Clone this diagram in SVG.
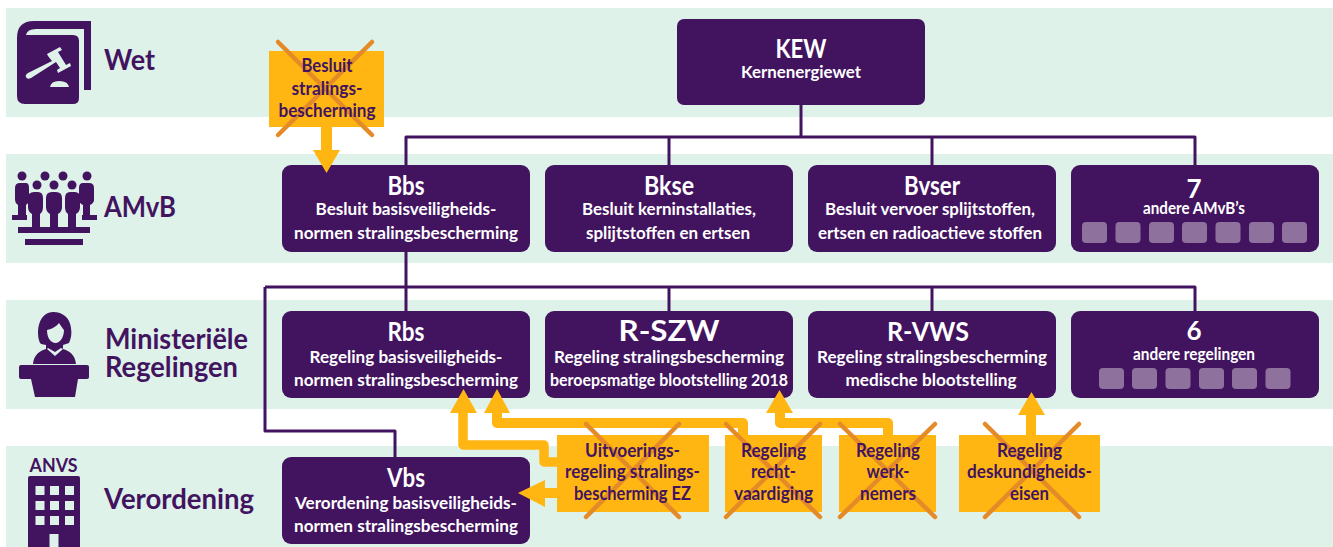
<svg xmlns="http://www.w3.org/2000/svg" width="1333" height="547" viewBox="0 0 1333 547">
<style>
text{font-family:"Lato","Liberation Sans",sans-serif;font-weight:700;text-anchor:middle}
.band{fill:#dff2ea}
.node{fill:#42145f}
.tt{fill:#fff;font-size:26px}
.st{fill:#fff;font-size:17.500px}
.lab{fill:#42145f;font-size:29px;text-anchor:start}
.y{fill:#ffb612}
.x{stroke:#e48a26;stroke-width:4.500;stroke-linecap:round;fill:none}
.yt{fill:#42145f;font-size:18.500px}
.sq{fill:#8e729d}
.line{fill:none;stroke:#42145f;stroke-width:3;stroke-linejoin:round}
.yl{fill:none;stroke:#ffb612;stroke-width:10;stroke-linejoin:round}
.ic{fill:#42145f}
.ib{fill:#dff2ea}
</style>
<g id="bands">
<rect class="band" x="6" y="8" width="1327" height="109"/>
<rect class="band" x="6" y="154" width="1327" height="109"/>
<rect class="band" x="6" y="300" width="1327" height="109"/>
<rect class="band" x="6" y="446" width="1327" height="101"/>
</g>
<g id="connectors">
<path class="line" d="M801 105V137M406 165V137H1195V165M669 137V165M932 137V165"/>
<path class="line" d="M406 252V311M265 287H1195V311M669 287V311M932 287V311M395 457V431H265V287"/>
</g>
<g id="icon-wet">
<path class="ic" d="M17 38Q17 21 34 21H91V90H84V29H36Q27 29 26 35H73Q79 35 79 41V98Q79 104 73 104H25Q17 104 17 96Z"/>
<path class="ib" d="M47 54L60 47L62 50L58 52L66 65L70 63L71 66L58 73L57 70L60 68L56 62L31 78Q27 80 26 77Q25 75 28 73L52 61L48 56ZM50 87Q51 81 59 81Q68 81 69 87Z"/>
</g>
<g id="icon-amvb" class="ic">
<circle cx="22" cy="176" r="4.500"/><circle cx="45" cy="176" r="4.500"/><circle cx="63" cy="176" r="4.500"/><circle cx="87" cy="176" r="4.500"/>
<circle cx="37" cy="185" r="4.500"/><circle cx="54" cy="185" r="4.500"/><circle cx="72" cy="185" r="4.500"/>
<path d="M15 188Q15 183 20 183H26Q29 183 29 188V200Q29 203 26 205V215H27V220H12V215H18V205Q15 203 15 200Z"/>
<path d="M94 188Q94 183 89 183H83Q79 183 79 188V200Q79 203 83 205V215H82V220H97V215H90V205Q94 203 94 200Z"/>
<path d="M28 198Q28 192 34 192H38Q43 192 43 198V207Q43 212 40 214V227H32V214Q28 212 28 207Z"/>
<path d="M46 198Q46 192 52 192H56Q62 192 62 198V207Q62 212 58 214V227H50V214Q46 212 46 207Z"/>
<path d="M65 198Q65 192 70 192H75Q80 192 80 198V207Q80 212 76 214V227H68V214Q65 212 65 207Z"/>
<rect x="18" y="227" width="72" height="6"/><rect x="25" y="239" width="58" height="6"/>
</g>
<g id="icon-minister">
<path class="ic" d="M53 312C43 312 38 322 38 332C38 338 39 342 41 344L46 345L46 349C40 351 34 354 33 364H76C75 354 69 351 63 349V345L69 343C71 338 72 334 71 328C70 318 63 312 53 312Z"/>
<path class="ib" d="M47 330C52 329 57 326 59 323C61 326 63 329 64 330C64 337 60 343 55.500 343C51 343 47 338 47 330ZM48 348L55 352L61 348L63 349L55 356L47 349Z"/>
<path class="ic" d="M21 365H87Q89 365 89 367V377Q89 379 87 379H78L75 397H35L31 379H21Q19 379 19 377V367Q19 365 21 365Z"/>
</g>
<g id="icon-anvs">
<text x="53.500" y="472" style="fill:#42145f;font-size:18px" textLength="48" lengthAdjust="spacingAndGlyphs">ANVS</text>
<path class="ic" d="M30 476H78Q80 476 80 478V547H58.500V534H49.500V547H28V478Q28 476 30 476Z"/>
<g class="ib"><rect x="35.500" y="486" width="9" height="9"/><rect x="50" y="486" width="9" height="9"/><rect x="65" y="486" width="9" height="9"/><rect x="35.500" y="501" width="9" height="9"/><rect x="50" y="501" width="9" height="9"/><rect x="65" y="501" width="9" height="9"/><rect x="35.500" y="516" width="9" height="9"/><rect x="50" y="516" width="9" height="9"/><rect x="65" y="516" width="9" height="9"/></g>
</g>
<g id="labels">
<text class="lab" x="104" y="70" textLength="51" lengthAdjust="spacingAndGlyphs">Wet</text>
<text class="lab" x="104" y="217" textLength="72" lengthAdjust="spacingAndGlyphs">AMvB</text>
<text class="lab" x="105" y="349" textLength="143" lengthAdjust="spacingAndGlyphs">Ministeriële</text>
<text class="lab" x="105" y="377" textLength="133" lengthAdjust="spacingAndGlyphs">Regelingen</text>
<text class="lab" x="104" y="509" textLength="150" lengthAdjust="spacingAndGlyphs">Verordening</text>
</g>
<g id="node-kew"><rect class="node" x="677" y="19" width="248" height="86" rx="7"/>
<text class="tt" x="801" y="58" textLength="51" lengthAdjust="spacingAndGlyphs">KEW</text>
<text class="st" x="801" y="78" textLength="120" lengthAdjust="spacingAndGlyphs">Kernenergiewet</text></g>
<g id="node-bbs"><rect class="node" x="282" y="165" width="248" height="87" rx="9"/>
<text class="tt" x="406" y="195" textLength="37" lengthAdjust="spacingAndGlyphs">Bbs</text>
<text class="st" x="406" y="215" textLength="181" lengthAdjust="spacingAndGlyphs">Besluit basisveiligheids-</text>
<text class="st" x="406" y="239" textLength="224" lengthAdjust="spacingAndGlyphs">normen stralingsbescherming</text></g>
<g id="node-bkse"><rect class="node" x="545" y="165" width="248" height="87" rx="9"/>
<text class="tt" x="669" y="195" textLength="50" lengthAdjust="spacingAndGlyphs">Bkse</text>
<text class="st" x="669" y="215" textLength="174" lengthAdjust="spacingAndGlyphs">Besluit kerninstallaties,</text>
<text class="st" x="668" y="239" textLength="164" lengthAdjust="spacingAndGlyphs">splijtstoffen en ertsen</text></g>
<g id="node-bvser"><rect class="node" x="808" y="165" width="248" height="87" rx="9"/>
<text class="tt" x="932" y="195" textLength="56" lengthAdjust="spacingAndGlyphs">Bvser</text>
<text class="st" x="930" y="215" textLength="210" lengthAdjust="spacingAndGlyphs">Besluit vervoer splijtstoffen,</text>
<text class="st" x="930" y="239" textLength="224" lengthAdjust="spacingAndGlyphs">ertsen en radioactieve stoffen</text></g>
<g id="node-amvb7"><rect class="node" x="1071" y="165" width="248" height="87" rx="9"/>
<text class="tt" x="1194" y="198">7</text>
<text class="st" x="1194" y="214" textLength="102" lengthAdjust="spacingAndGlyphs">andere AMvB’s</text>
<rect class="sq" x="1082" y="222" width="25" height="21" rx="4"/><rect class="sq" x="1115.500" y="222" width="25" height="21" rx="4"/><rect class="sq" x="1149" y="222" width="25" height="21" rx="4"/><rect class="sq" x="1182" y="222" width="25" height="21" rx="4"/><rect class="sq" x="1215.500" y="222" width="25" height="21" rx="4"/><rect class="sq" x="1249" y="222" width="25" height="21" rx="4"/><rect class="sq" x="1282" y="222" width="25" height="21" rx="4"/></g>
<g id="node-rbs"><rect class="node" x="282" y="311" width="248" height="87" rx="9"/>
<text class="tt" x="406" y="341" textLength="37" lengthAdjust="spacingAndGlyphs">Rbs</text>
<text class="st" x="406" y="363" textLength="193" lengthAdjust="spacingAndGlyphs">Regeling basisveiligheids-</text>
<text class="st" x="406" y="386" textLength="224" lengthAdjust="spacingAndGlyphs">normen stralingsbescherming</text></g>
<g id="node-rszw"><rect class="node" x="545" y="311" width="248" height="87" rx="9"/>
<text class="tt" x="669" y="341" style="font-size:28px" textLength="101" lengthAdjust="spacingAndGlyphs">R-SZW</text>
<text class="st" x="669" y="363" textLength="230" lengthAdjust="spacingAndGlyphs">Regeling stralingsbescherming</text>
<text class="st" x="669" y="386" textLength="238" lengthAdjust="spacingAndGlyphs">beroepsmatige blootstelling 2018</text></g>
<g id="node-rvws"><rect class="node" x="808" y="311" width="248" height="87" rx="9"/>
<text class="tt" x="928" y="341" textLength="82" lengthAdjust="spacingAndGlyphs">R-VWS</text>
<text class="st" x="932" y="363" textLength="230" lengthAdjust="spacingAndGlyphs">Regeling stralingsbescherming</text>
<text class="st" x="931" y="386" textLength="171" lengthAdjust="spacingAndGlyphs">medische blootstelling</text></g>
<g id="node-reg6"><rect class="node" x="1071" y="311" width="248" height="87" rx="9"/>
<text class="tt" x="1194" y="340">6</text>
<text class="st" x="1194" y="360" textLength="122" lengthAdjust="spacingAndGlyphs">andere regelingen</text>
<rect class="sq" x="1099" y="368" width="25" height="21" rx="4"/><rect class="sq" x="1132" y="368" width="25" height="21" rx="4"/><rect class="sq" x="1165.500" y="368" width="25" height="21" rx="4"/><rect class="sq" x="1199" y="368" width="25" height="21" rx="4"/><rect class="sq" x="1232" y="368" width="25" height="21" rx="4"/><rect class="sq" x="1265.500" y="368" width="25" height="21" rx="4"/></g>
<g id="node-vbs"><rect class="node" x="282" y="457" width="248" height="87" rx="9"/>
<text class="tt" x="406" y="487" textLength="38" lengthAdjust="spacingAndGlyphs">Vbs</text>
<text class="st" x="406" y="509" textLength="222" lengthAdjust="spacingAndGlyphs">Verordening basisveiligheids-</text>
<text class="st" x="406" y="532" textLength="224" lengthAdjust="spacingAndGlyphs">normen stralingsbescherming</text></g>
<g id="yellow-arrows">
<path class="yl" d="M326.500 127V152" style="stroke-width:11"/><path class="y" d="M313 150H340L326.500 173Z"/>
<path class="yl" d="M463 412V445H544V462H558" style="stroke-width:9.500"/><path class="y" d="M450 413H477L463.500 389Z"/>
<path class="yl" d="M497 412V423H743V436"/><path class="y" d="M484 413H510L497 389Z"/>
<path class="yl" d="M780 412V423H888V436"/><path class="y" d="M766 413H793L779.500 390Z"/>
<path class="yl" d="M1031 414V436"/><path class="y" d="M1018 415H1045L1031.500 392Z"/>
<path class="yl" d="M544 493H558"/><path class="y" d="M545 480V507L518 493Z"/>
</g>
<g id="old-besluit"><rect class="y" x="269" y="51" width="115" height="76"/>
<path class="x" d="M278 42L372 135M372 42L278 135"/>
<text class="yt" x="327" y="72" textLength="51" lengthAdjust="spacingAndGlyphs">Besluit</text>
<text class="yt" x="327" y="95" textLength="71" lengthAdjust="spacingAndGlyphs">stralings-</text>
<text class="yt" x="327" y="117" textLength="97" lengthAdjust="spacingAndGlyphs">bescherming</text></g>
<g id="old-uitvoering"><rect class="y" x="557" y="435" width="152" height="77"/>
<path class="x" d="M586 424L679 517M679 424L586 517"/>
<text class="yt" x="632.500" y="457" textLength="95" lengthAdjust="spacingAndGlyphs">Uitvoerings-</text>
<text class="yt" x="632.500" y="478" textLength="135" lengthAdjust="spacingAndGlyphs">regeling stralings-</text>
<text class="yt" x="632.500" y="500" textLength="117" lengthAdjust="spacingAndGlyphs">bescherming EZ</text></g>
<g id="old-recht"><rect class="y" x="725" y="435" width="97" height="77"/>
<path class="x" d="M726 424L820 517M820 424L726 517"/>
<text class="yt" x="773.500" y="457" textLength="65" lengthAdjust="spacingAndGlyphs">Regeling</text>
<text class="yt" x="773.500" y="478" textLength="45" lengthAdjust="spacingAndGlyphs">recht-</text>
<text class="yt" x="773.500" y="500" textLength="79" lengthAdjust="spacingAndGlyphs">vaardiging</text></g>
<g id="old-werk"><rect class="y" x="839" y="435" width="97" height="77"/>
<path class="x" d="M840 424L935 517M935 424L840 517"/>
<text class="yt" x="888" y="457" textLength="64" lengthAdjust="spacingAndGlyphs">Regeling</text>
<text class="yt" x="888" y="478" textLength="43" lengthAdjust="spacingAndGlyphs">werk-</text>
<text class="yt" x="888" y="500" textLength="56" lengthAdjust="spacingAndGlyphs">nemers</text></g>
<g id="old-deskundig"><rect class="y" x="959" y="435" width="141" height="77"/>
<path class="x" d="M985 424L1079 517M1079 424L985 517"/>
<text class="yt" x="1029.500" y="457" textLength="65" lengthAdjust="spacingAndGlyphs">Regeling</text>
<text class="yt" x="1029.500" y="478" textLength="125" lengthAdjust="spacingAndGlyphs">deskundigheids-</text>
<text class="yt" x="1029.500" y="500" textLength="39" lengthAdjust="spacingAndGlyphs">eisen</text></g>
</svg>
